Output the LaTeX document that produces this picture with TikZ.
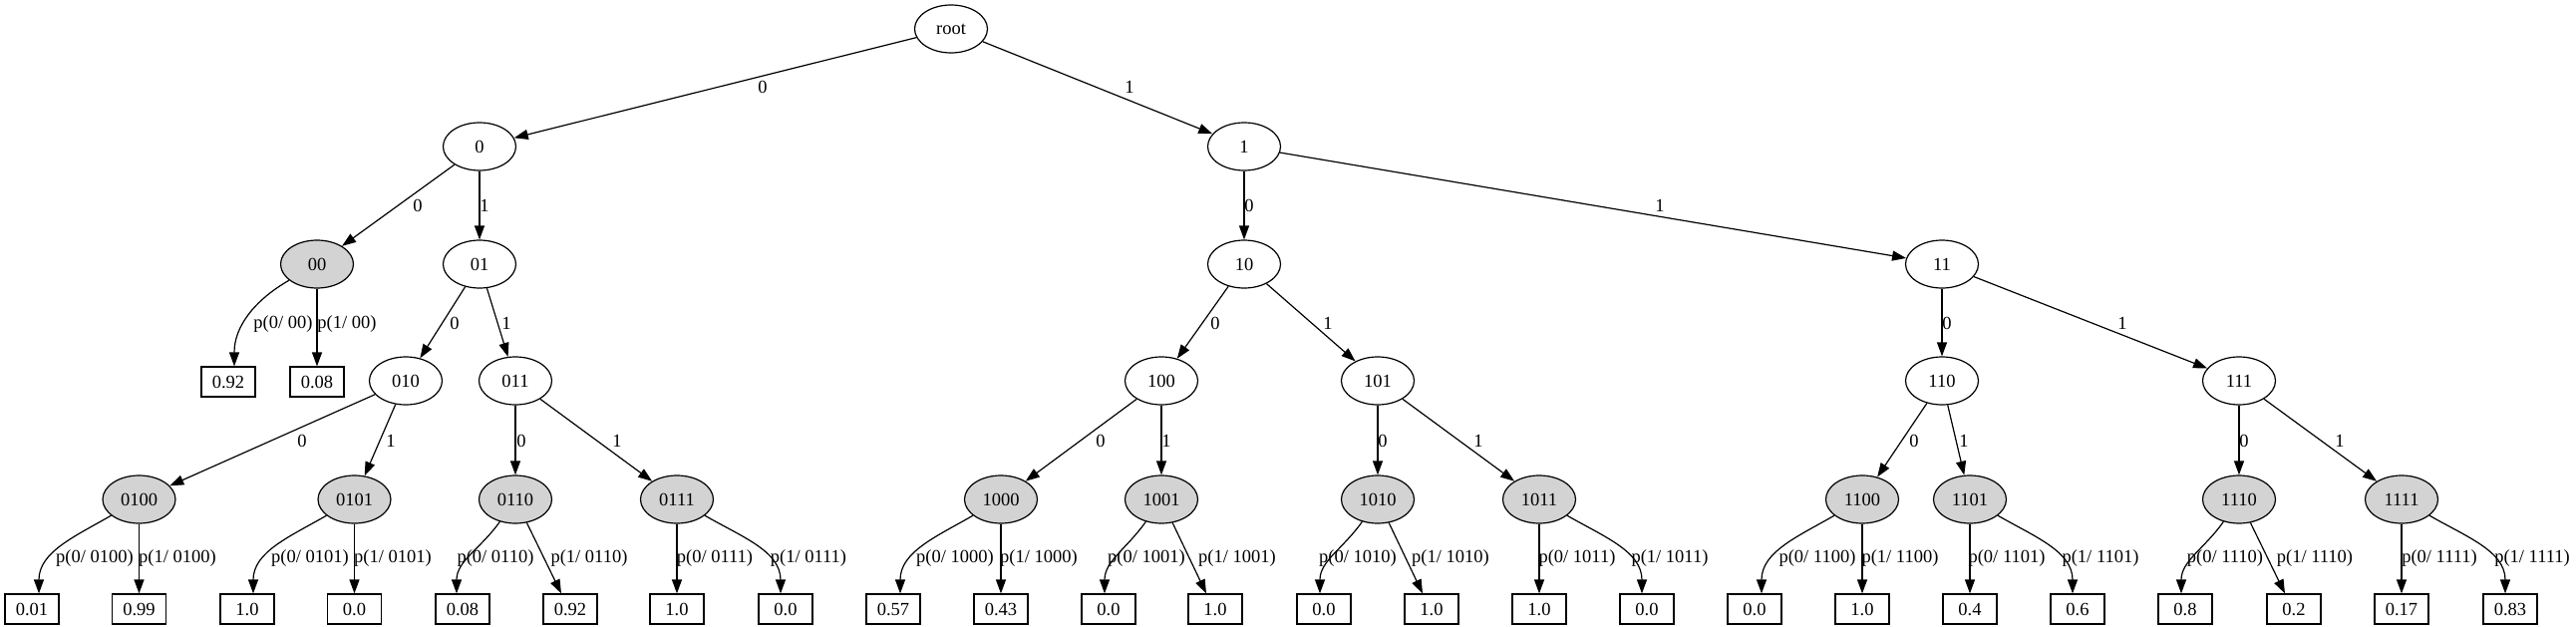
\documentclass[tikz,border=0pt]{standalone}
\usepackage{fontspec}
\setmainfont{Liberation Serif}
\usetikzlibrary{arrows.meta,shapes.geometric}
\definecolor{lgray}{RGB}{211,211,211}
\begin{document}
\begin{tikzpicture}[x=1pt,y=-1pt,
  every node/.style={font=\fontsize{18.5}{20}\selectfont},
  st/.style={draw, ellipse, line width=1.2pt, minimum width=73pt, minimum height=48pt, inner sep=0pt},
  hit/.style={st, fill=lgray},
  leaf/.style={draw, rectangle, line width=1.2pt, minimum width=54pt, minimum height=30pt, inner sep=0pt},
  conn/.style={line width=1.2pt, -{Triangle[length=14pt,width=10pt]}},
  lbl/.style={inner sep=0pt},
  cl/.style={out=-150,in=90},
  cr/.style={out=-30,in=90},
  csl/.style={out=-125,in=90}
]
\useasboundingbox (0,0) rectangle (2584,629);
% internal nodes
\node[st] (root) at (954,29) {root};
\node[st] (n0) at (481,147) {0};
\node[st] (n1) at (1248,147) {1};
\node[hit] (n00) at (318,265) {00};
\node[st] (n01) at (481,265) {01};
\node[st] (n10) at (1248,265) {10};
\node[st] (n11) at (1948,265) {11};
\node[st] (n010) at (407,382) {010};
\node[st] (n011) at (517,382) {011};
\node[st] (n100) at (1165,382) {100};
\node[st] (n101) at (1382,382) {101};
\node[st] (n110) at (1948,382) {110};
\node[st] (n111) at (2246,382) {111};
\node[hit] (n0100) at (139.5,501) {0100};
\node[hit] (n0101) at (355.5,501) {0101};
\node[hit] (n0110) at (517,501) {0110};
\node[hit] (n0111) at (679,501) {0111};
\node[hit] (n1000) at (1004,501) {1000};
\node[hit] (n1001) at (1165,501) {1001};
\node[hit] (n1010) at (1382,501) {1010};
\node[hit] (n1011) at (1544,501) {1011};
\node[hit] (n1100) at (1868,501) {1100};
\node[hit] (n1101) at (1976,501) {1101};
\node[hit] (n1110) at (2246,501) {1110};
\node[hit] (n1111) at (2409,501) {1111};
% leaves
\node[leaf] (b00a) at (229,383) {0.92};
\node[leaf] (b00b) at (318,383) {0.08};
\node[leaf] (b0100a) at (32,611) {0.01};
\node[leaf] (b0100b) at (139.5,611) {0.99};
\node[leaf] (b0101a) at (248,611) {1.0};
\node[leaf] (b0101b) at (355.5,611) {0.0};
\node[leaf] (b0110a) at (464,611) {0.08};
\node[leaf] (b0110b) at (572,611) {0.92};
\node[leaf] (b0111a) at (679,611) {1.0};
\node[leaf] (b0111b) at (788,611) {0.0};
\node[leaf] (b1000a) at (896,611) {0.57};
\node[leaf] (b1000b) at (1004,611) {0.43};
\node[leaf] (b1001a) at (1112,611) {0.0};
\node[leaf] (b1001b) at (1219,611) {1.0};
\node[leaf] (b1010a) at (1328,611) {0.0};
\node[leaf] (b1010b) at (1436,611) {1.0};
\node[leaf] (b1011a) at (1544,611) {1.0};
\node[leaf] (b1011b) at (1652,611) {0.0};
\node[leaf] (b1100a) at (1760,611) {0.0};
\node[leaf] (b1100b) at (1868,611) {1.0};
\node[leaf] (b1101a) at (1976,611) {0.4};
\node[leaf] (b1101b) at (2084,611) {0.6};
\node[leaf] (b1110a) at (2192,611) {0.8};
\node[leaf] (b1110b) at (2301,611) {0.2};
\node[leaf] (b1111a) at (2409,611) {0.17};
\node[leaf] (b1111b) at (2518,611) {0.83};
% tree edges
\draw[conn] (root) -- (n0) node[lbl] at (765,87) {0};
\draw[conn] (root) -- (n1) node[lbl] at (1133,87) {1};
\draw[conn] (n0) -- (n00) node[lbl] at (419,206) {0};
\draw[conn] (n0) -- (n01) node[lbl] at (486,206) {1};
\draw[conn] (n01) -- (n010) node[lbl] at (456,324) {0};
\draw[conn] (n01) -- (n011) node[lbl] at (508,324) {1};
\draw[conn] (n010) -- (n0100) node[lbl] at (303,442) {0};
\draw[conn] (n010) -- (n0101) node[lbl] at (392,442) {1};
\draw[conn] (n011) -- (n0110) node[lbl] at (523,442) {0};
\draw[conn] (n011) -- (n0111) node[lbl] at (619,442) {1};
\draw[conn] (n1) -- (n10) node[lbl] at (1253,206) {0};
\draw[conn] (n1) -- (n11) node[lbl] at (1665,206) {1};
\draw[conn] (n10) -- (n100) node[lbl] at (1219,324) {0};
\draw[conn] (n10) -- (n101) node[lbl] at (1332,324) {1};
\draw[conn] (n100) -- (n1000) node[lbl] at (1104,442) {0};
\draw[conn] (n100) -- (n1001) node[lbl] at (1170,442) {1};
\draw[conn] (n101) -- (n1010) node[lbl] at (1387,442) {0};
\draw[conn] (n101) -- (n1011) node[lbl] at (1483,442) {1};
\draw[conn] (n11) -- (n110) node[lbl] at (1953,324) {0};
\draw[conn] (n11) -- (n111) node[lbl] at (2129,324) {1};
\draw[conn] (n110) -- (n1100) node[lbl] at (1920,442) {0};
\draw[conn] (n110) -- (n1101) node[lbl] at (1970,442) {1};
\draw[conn] (n111) -- (n1110) node[lbl] at (2251,442) {0};
\draw[conn] (n111) -- (n1111) node[lbl] at (2347,442) {1};
% leaf edges
\draw[conn] (n00) to[cl] ([xshift=6pt]b00a.north) node[lbl] at (284,325) {p(0/ 00)};
\draw[conn] (n00) -- (b00b) node[lbl] at (348,325) {p(1/ 00)};
\draw[conn] (n0100) to[cl] ([xshift=7pt]b0100a.north) node[lbl] at (95,560) {p(0/ 0100)};
\draw[conn] (n0100) -- (b0100b) node[lbl] at (178,560) {p(1/ 0100)};
\draw[conn] (n0101) to[cl] ([xshift=6pt]b0101a.north) node[lbl] at (311,560) {p(0/ 0101)};
\draw[conn] (n0101) -- (b0101b) node[lbl] at (394,560) {p(1/ 0101)};
\draw[conn] (n0110) to[csl] ([xshift=-6pt]b0110a.north) node[lbl] at (497,560) {p(0/ 0110)};
\draw[conn] (n0110) -- ([xshift=-9pt]b0110b.north) node[lbl] at (591,560) {p(1/ 0110)};
\draw[conn] (n0111) -- (b0111a) node[lbl] at (717,560) {p(0/ 0111)};
\draw[conn] (n0111) to[cr] ([xshift=-5pt]b0111b.north) node[lbl] at (811,560) {p(1/ 0111)};
\draw[conn] (n1000) to[cl] ([xshift=7pt]b1000a.north) node[lbl] at (958,560) {p(0/ 1000)};
\draw[conn] (n1000) -- (b1000b) node[lbl] at (1042,560) {p(1/ 1000)};
\draw[conn] (n1001) to[csl] ([xshift=-4pt]b1001a.north) node[lbl] at (1150,560) {p(0/ 1001)};
\draw[conn] (n1001) -- ([xshift=-9pt]b1001b.north) node[lbl] at (1241,560) {p(1/ 1001)};
\draw[conn] (n1010) to[csl] ([xshift=-4pt]b1010a.north) node[lbl] at (1362,560) {p(0/ 1010)};
\draw[conn] (n1010) -- ([xshift=-9pt]b1010b.north) node[lbl] at (1455,560) {p(1/ 1010)};
\draw[conn] (n1011) -- (b1011a) node[lbl] at (1582,560) {p(0/ 1011)};
\draw[conn] (n1011) to[cr] ([xshift=-5pt]b1011b.north) node[lbl] at (1675,560) {p(1/ 1011)};
\draw[conn] (n1100) to[cl] ([xshift=7pt]b1100a.north) node[lbl] at (1823,560) {p(0/ 1100)};
\draw[conn] (n1100) -- (b1100b) node[lbl] at (1906,560) {p(1/ 1100)};
\draw[conn] (n1101) -- (b1101a) node[lbl] at (2013,560) {p(0/ 1101)};
\draw[conn] (n1101) to[cr] ([xshift=-5pt]b1101b.north) node[lbl] at (2107,560) {p(1/ 1101)};
\draw[conn] (n1110) to[csl] ([xshift=-4pt]b1110a.north) node[lbl] at (2232,560) {p(0/ 1110)};
\draw[conn] (n1110) -- ([xshift=-9pt]b1110b.north) node[lbl] at (2322,560) {p(1/ 1110)};
\draw[conn] (n1111) -- (b1111a) node[lbl] at (2447,560) {p(0/ 1111)};
\draw[conn] (n1111) to[cr] ([xshift=-5pt]b1111b.north) node[lbl] at (2540,560) {p(1/ 1111)};
\end{tikzpicture}
\end{document}
